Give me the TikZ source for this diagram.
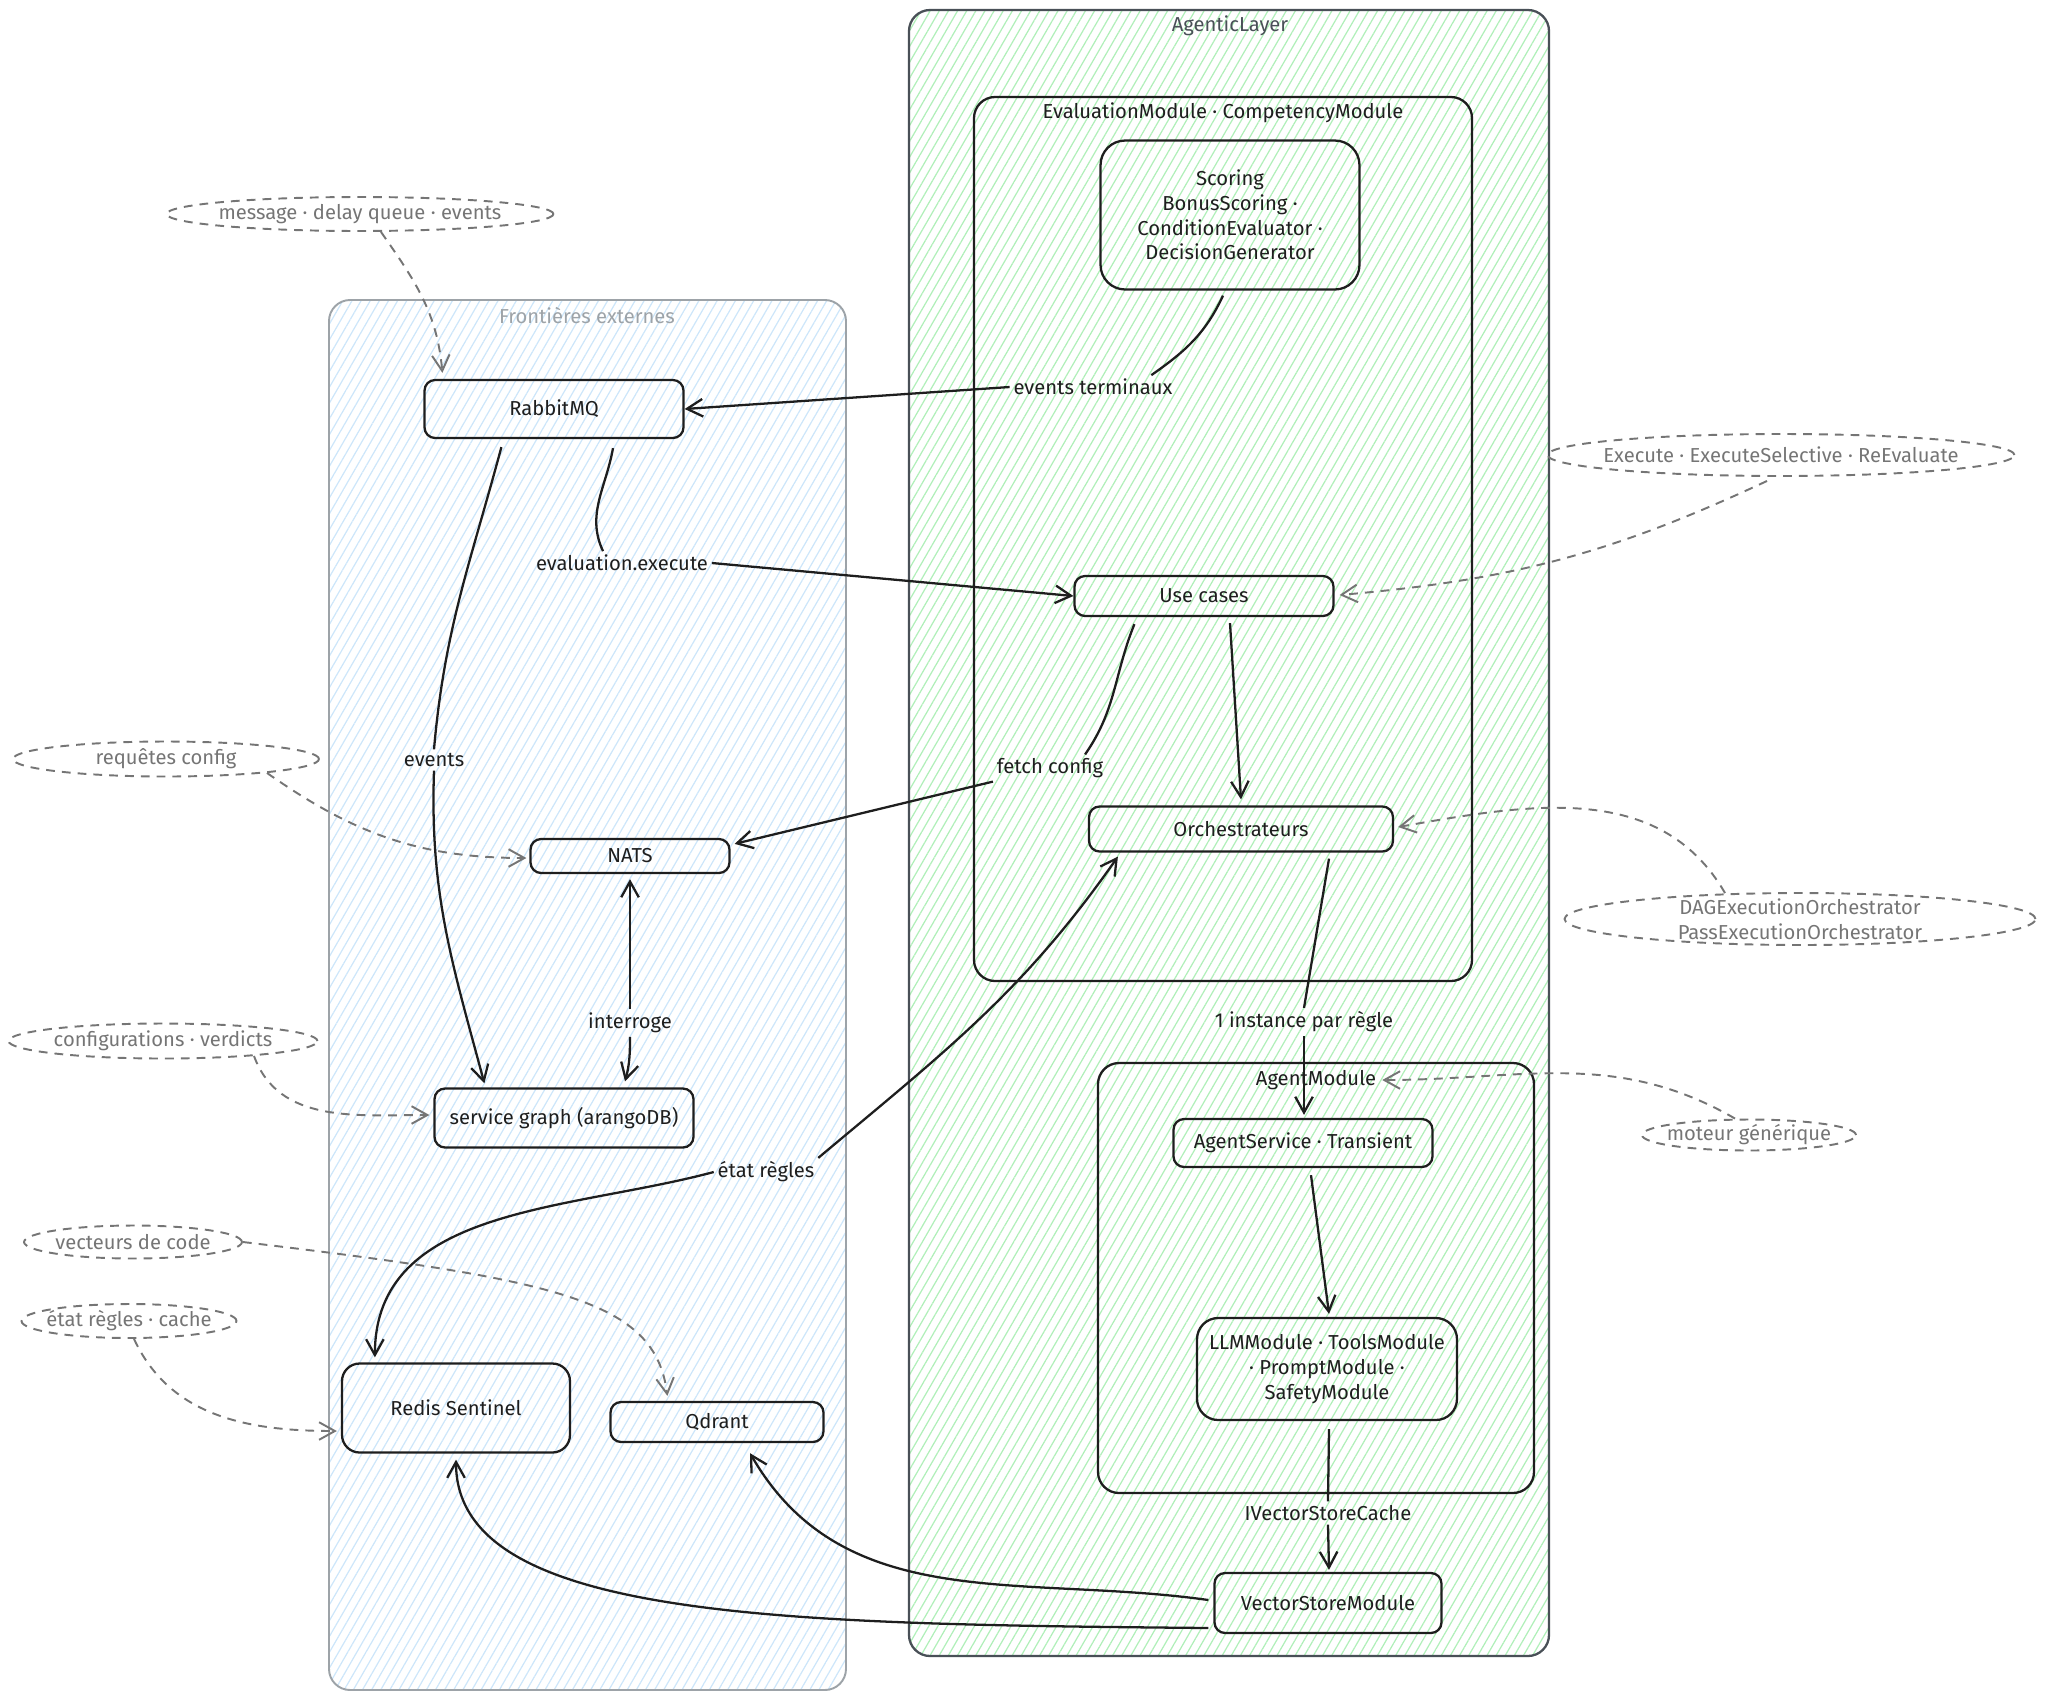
\documentclass[tikz,border=0pt]{standalone}
\usepackage{fontspec}
\setmainfont{Fira Sans}
\usetikzlibrary{arrows.meta,calc,shapes.geometric,patterns.meta}
\definecolor{ink}{HTML}{1E1E1E}
\definecolor{muted}{HTML}{757575}
\definecolor{frame}{HTML}{495057}
\definecolor{framelight}{HTML}{9DA3A8}
\definecolor{hatchgreen}{HTML}{B0EFB9}
\definecolor{hatchblue}{HTML}{CDE6FA}
\tikzset{
  every node/.style={font=\fontsize{11.5}{14}\selectfont, text=ink},
  box/.style={draw=ink, rounded corners=6pt, align=center, line width=1.3pt, inner sep=2pt},
  group/.style={rounded corners=12pt, line width=1.3pt},
  grouplabel/.style={anchor=center},
  note/.style={ellipse, draw=muted, dash pattern=on 5pt off 4pt, line width=1.1pt, inner sep=0pt},
  notetext/.style={text=muted, align=center},
  lbl/.style={inner sep=2pt, align=center},
  edge/.style={draw=ink, line width=1.3pt},
  arr/.style={edge, -{Straight Barb[length=9pt,width=10pt]}},
  notearr/.style={draw=muted, line width=1.1pt, dash pattern=on 5pt off 4pt, -{Straight Barb[length=9pt,width=10pt]}},
  hatch/.style={pattern={Lines[angle=60,distance=4.5pt,line width=0.7pt]}},
}
\begin{document}
\begin{tikzpicture}[x=0.02cm, y=0.02cm]
  \useasboundingbox (0,0) rectangle (2045,-1701);

  % groups
  \draw[group, draw=framelight, line width=1.1pt, hatch, pattern color=hatchblue]
    (329,-300) rectangle (846,-1690);
  \node[grouplabel, text=framelight] (lblfront) at (587,-316) {Frontières externes};
  \draw[group, draw=frame, hatch, pattern color=hatchgreen]
    (909,-10) rectangle (1549,-1656);
  \node[grouplabel, text=frame] (lblagentic) at (1230,-26) {AgenticLayer};
  \draw[group, draw=ink] (974,-97) rectangle (1472,-981);
  \node[grouplabel] (lblevalmod) at (1223,-113) {EvaluationModule · CompetencyModule};
  \draw[group, draw=ink] (1098,-1063) rectangle (1534,-1493);
  \node[grouplabel] (lblagentmod) at (1316,-1080) {AgentModule};

  % components
  \node[box, rounded corners=14pt, minimum width=5.18cm, minimum height=2.98cm] (scoring) at (1230,-215)
    {Scoring\\BonusScoring ·\\ConditionEvaluator ·\\DecisionGenerator};
  \node[box, minimum width=5.18cm, minimum height=1.16cm] (rabbit) at (554,-409) {RabbitMQ};
  \node[box, minimum width=5.18cm, minimum height=0.8cm] (usecases) at (1204,-596) {Use cases};
  \node[box, minimum width=6.08cm, minimum height=0.9cm] (orch) at (1241,-829) {Orchestrateurs};
  \node[box, minimum width=3.98cm, minimum height=0.68cm] (nats) at (630,-856) {NATS};
  \node[box, minimum width=5.18cm, minimum height=1.18cm] (graph) at (564,-1118) {service graph (arangoDB)};
  \node[box, rounded corners=10pt, minimum width=4.56cm, minimum height=1.78cm] (redis) at (456,-1408) {Redis Sentinel};
  \node[box, minimum width=4.26cm, minimum height=0.8cm] (qdrant) at (717,-1422) {Qdrant};
  \node[box, minimum width=5.18cm, minimum height=0.96cm] (agentsvc) at (1303,-1143) {AgentService · Transient};
  \node[box, rounded corners=12pt, minimum width=5.2cm, minimum height=2.04cm] (llm) at (1327,-1369)
    {LLMModule · ToolsModule\\· PromptModule ·\\SafetyModule};
  \node[box, minimum width=4.54cm, minimum height=1.2cm] (vstore) at (1328,-1603) {VectorStoreModule};

  % notes
  \node[note, minimum width=7.74cm, minimum height=0.68cm, label={[notetext]center:message · delay queue · events}] (nmsg) at (360,-214) {};
  \node[note, minimum width=9.34cm, minimum height=0.84cm, label={[notetext]center:Execute · ExecuteSelective · ReEvaluate}] (nexec) at (1781,-455) {};
  \node[note, minimum width=9.42cm, minimum height=1.04cm, label={[notetext]center:DAGExecutionOrchestrator\\PassExecutionOrchestrator}] (norch) at (1800,-919) {};
  \node[note, minimum width=4.28cm, minimum height=0.62cm, label={[notetext]center:moteur générique}] (nmoteur) at (1749,-1135) {};
  \node[note, minimum width=6.12cm, minimum height=0.7cm, label={[notetext]center:requêtes config}] (nreq) at (166,-759) {};
  \node[note, minimum width=6.18cm, minimum height=0.7cm, label={[notetext]center:configurations · verdicts}] (nconf) at (163,-1041) {};
  \node[note, minimum width=4.36cm, minimum height=0.66cm, label={[notetext]center:vecteurs de code}] (nvect) at (133,-1242) {};
  \node[note, minimum width=4.3cm, minimum height=0.68cm, label={[notetext]center:état règles · cache}] (netat) at (129,-1321) {};

  % edge labels
  \node[lbl] (lblterm) at (1093,-387) {events terminaux};
  \node[lbl] (lbleval) at (622,-563) {evaluation.execute};
  \node[lbl] (lblev) at (434,-760) {events};
  \node[lbl] (lblfetch) at (1050,-768) {fetch config};
  \node[lbl] (lblint) at (630,-1023) {interroge};
  \node[lbl] (lblinst) at (1304,-1022) {1 instance par règle};
  \node[lbl] (lbletat) at (766,-1172) {état règles};
  \node[lbl] (lblvec) at (1328,-1513) {IVectorStoreCache};

  % flows
  \draw[edge] ($(scoring.south)+(-7,-5)$) to[out=-115,in=35] ($(lblterm.north east)+(-25,0)$);
  \draw[arr] (lblterm.west) -- (rabbit.east);
  \draw[edge] ($(rabbit.south)+(59,-9)$) to[out=-100,in=115] ($(lbleval.north)+(-19,0)$);
  \draw[arr] (lbleval.east) -- (usecases.west);
  \draw[edge] ($(rabbit.south west)+(78,-8)$) to[out=-105,in=85] (lblev.north);
  \draw[arr] (lblev.south) to[out=-92,in=105] ($(graph.north west)+(51,4)$);
  \draw[edge] ($(usecases.south west)+(61,-7)$) to[out=-112,in=55] ($(lblfetch.north east)+(-22,0)$);
  \draw[arr] (lblfetch.south west) -- ($(nats.north east)+(4,-6)$);
  \draw[arr] ($(usecases.south)+(26,-6)$) -- ($(orch.north)+(0,6)$);
  \draw[arr] (lblint.north) -- ($(nats.south)+(0,-5)$);
  \draw[arr] (lblint.south) to[out=-90,in=75] ($(graph.north)+(61,6)$);
  \draw[edge] ($(orch.south)+(88,-6)$) -- (lblinst.north);
  \draw[arr] (lblinst.south) -- ($(agentsvc.north)+(1,3)$);
  \draw[arr] (lbletat.north east) to[out=40,in=-125] ($(orch.south west)+(30,-4)$);
  \draw[arr] (lbletat.west) to[out=195,in=90] ($(redis.north west)+(34,5)$);
  \draw[arr] ($(agentsvc.south)+(8,-7)$) -- ($(llm.north)+(2,3)$);
  \draw[edge] ($(llm.south)+(2,-8)$) -- (lblvec.north);
  \draw[arr] (lblvec.south) -- ($(vstore.north)+(1,2)$);
  \draw[arr] ($(vstore.west)+(-5,3)$) to[out=172,in=-60] ($(qdrant.south)+(33,-10)$);
  \draw[arr] ($(vstore.west)+(-5,-25)$) .. controls (782,-1624) and (456,-1620) .. ($(redis.south)+(0,-6)$);

  % note links
  \draw[notearr] ($(nmsg.south)+(21,0)$) to[out=-55,in=95] ($(rabbit.north west)+(19,6)$);
  \draw[notearr] ($(nexec.south)+(-14,-4)$) to[out=-155,in=5] ($(usecases.east)+(5,1)$);
  \draw[notearr] ($(norch.north)+(-75,-1)$) to[out=120,in=10] ($(orch.east)+(4,2)$);
  \draw[notearr] ($(nmoteur.north)+(-14,0)$) to[out=150,in=0] (lblagentmod.east);
  \draw[notearr] ($(nreq.south)+(101,4.5)$) to[out=-35,in=180] ($(nats.west)+(-3,-2)$);
  \draw[notearr] ($(nconf.south)+(91,3.5)$) to[out=-70,in=180] ($(graph.west)+(-4,3)$);
  \draw[notearr] (nvect.east) .. controls (560,-1280) and (655,-1300) .. ($(qdrant.north west)+(58,5)$);
  \draw[notearr] ($(netat.south)+(5,0)$) to[out=-65,in=180] ($(redis.west)+(-4,-23)$);
\end{tikzpicture}
\end{document}
